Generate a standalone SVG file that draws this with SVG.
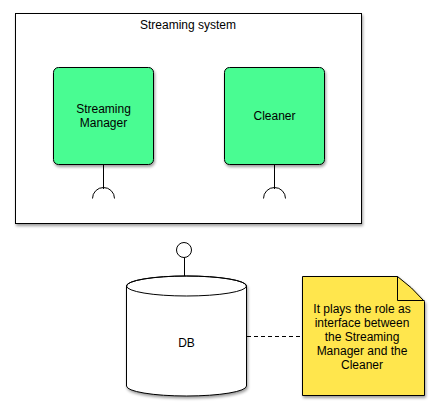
<svg xmlns="http://www.w3.org/2000/svg" width="437" height="414" viewBox="0 0 437 414">
<style>
text{font-family:"Liberation Sans",Arial,sans-serif;font-size:12px;fill:#000;text-anchor:middle}
.ln{fill:none;stroke:#000;stroke-width:1}
.comp{fill:#48FC92;stroke:#000;stroke-width:1}
</style>
<defs>
<filter id="sh" x="-20%" y="-20%" width="150%" height="150%">
<feGaussianBlur in="SourceAlpha" stdDeviation="1.5"/>
<feOffset dx="1" dy="2" result="b"/>
<feComponentTransfer><feFuncA type="linear" slope="0.4"/></feComponentTransfer>
<feMerge><feMergeNode/><feMergeNode in="SourceGraphic"/></feMerge>
</filter>
</defs>
<rect width="437" height="414" fill="#fff"/>
<g id="streaming-system">
<rect x="15.5" y="13.5" width="346" height="210" fill="#fff" stroke="#000" filter="url(#sh)"/>
<text x="188" y="29">Streaming system</text>
</g>
<g id="streaming-manager">
<rect class="comp" x="53.5" y="67.5" width="100" height="97" rx="5" filter="url(#sh)"/>
<text x="103.5" y="113">Streaming</text>
<text x="103.5" y="127">Manager</text>
</g>
<g id="cleaner">
<rect class="comp" x="224.5" y="67.5" width="100" height="97" rx="5" filter="url(#sh)"/>
<text x="274.5" y="120">Cleaner</text>
</g>
<g id="db">
<path d="M126.5,286 L126.5,386 A60,10 0 0 0 246.5,386 L246.5,286 A60,10 0 0 0 126.5,286 Z" fill="#fff" stroke="#000" filter="url(#sh)"/>
<ellipse cx="186.5" cy="286" rx="60" ry="10" class="ln"/>
<text x="186.5" y="347">DB</text>
</g>
<g id="note">
<path d="M302.5,276.5 L397.5,276.5 Q412,287 424.5,301.5 L424.5,395.5 L302.5,395.5 Z" fill="#FFE64E" stroke="#000" filter="url(#sh)"/>
<path d="M397.5,276.5 L397.5,300.5 L424.5,300.5" class="ln"/>
<text x="362" y="313">It plays the role as</text>
<text x="362" y="327">interface between</text>
<text x="362" y="341">the Streaming</text>
<text x="362" y="355">Manager and the</text>
<text x="362" y="369">Cleaner</text>
</g>
<g id="connectors">
<path class="ln" d="M103.5,164.5 L103.5,189"/>
<path class="ln" d="M92.5,198.5 A11,11 0 0 1 114.5,198.5"/>
<path class="ln" d="M274.5,164.5 L274.5,189"/>
<path class="ln" d="M263.5,198.5 A11,11 0 0 1 285.5,198.5"/>
<path class="ln" d="M184.5,257.5 L184.5,276"/>
<circle cx="184" cy="250" r="7.5" fill="#fff" stroke="#000"/>
<path class="ln" d="M247,336.5 L302,336.5" stroke-dasharray="4,3"/>
</g>
</svg>
